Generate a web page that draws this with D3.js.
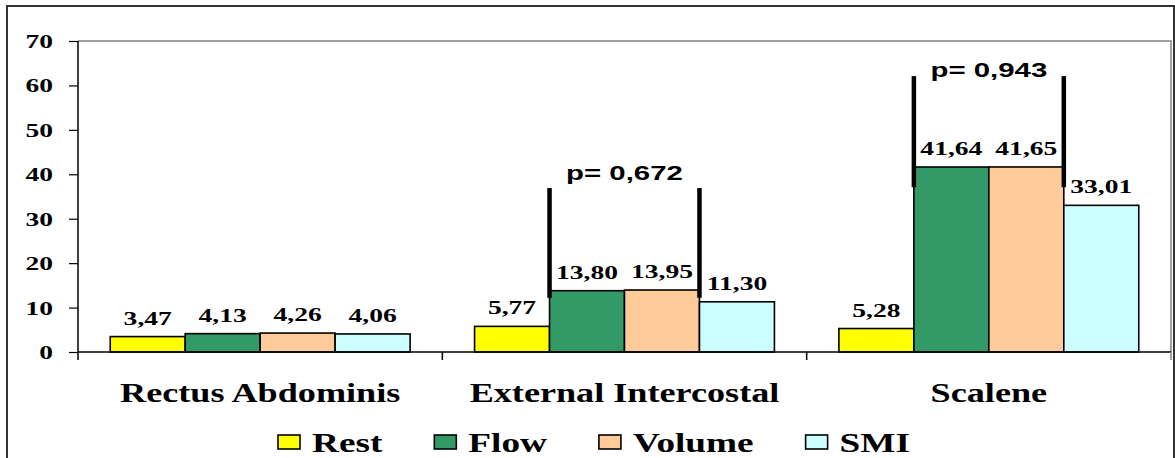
<!DOCTYPE html>
<html>
<head>
<meta charset="utf-8">
<script src="https://cdn.jsdelivr.net/npm/d3@7"></script>
<style>
  body { margin: 0; background: #fff; }
  svg { display: block; }
</style>
</head>
<body>
<div id="vis"></div>
<script>
var width = 1175;
var height = 458;

// data
var categories = ["Rectus Abdominis", "External Intercostal", "Scalene"];
var seriesNames = ["Rest", "Flow", "Volume", "SMI"];
var seriesColors = ["#ffff00", "#339966", "#ffcc99", "#ccffff"];
var restValues = [3.47, 5.77, 5.28];
var flowValues = [4.13, 13.80, 41.64];
var volumeValues = [4.26, 13.95, 41.65];
var smiValues = [4.06, 11.30, 33.01];
var yTicks = [0, 10, 20, 30, 40, 50, 60, 70];
// p-value brackets between Flow and Volume (in value units)
var pLabels = ["p= 0,672", "p= 0,943"];
var pCategories = ["External Intercostal", "Scalene"];
var pLineTop = [36.9, 62.1];
var pLineBottom = [12.2, 37.1];
var pTextY = [38.7, 62.0];

var seriesValues = [restValues, flowValues, volumeValues, smiValues];

var plot = {left: 78, right: 1171, top: 41, bottom: 352};

var svg = d3.select("#vis")
  .append("svg")
  .attr("width", width)
  .attr("height", height);

// outer frame
svg.append("rect")
  .attr("x", 7)
  .attr("y", 6)
  .attr("width", 1167)
  .attr("height", 470)
  .style("fill", "none")
  .style("stroke", "#333")
  .style("stroke-width", 2);

var y = d3.scaleLinear()
  .domain([0, 70])
  .range([plot.bottom, plot.top]);

var x0 = d3.scaleBand()
  .domain(categories)
  .range([plot.left, plot.right])
  .paddingInner(0)
  .paddingOuter(0);

var x1 = d3.scaleBand()
  .domain(seriesNames)
  .range([0, x0.bandwidth()])
  .paddingInner(0)
  .paddingOuter(0.43);

var serif = "'Liberation Serif', 'Times New Roman', serif";
var sans = "'Liberation Sans', Arial, sans-serif";

// stretched text helper
function addText(g, tx, ty, str, size, sx, anchor, family) {
  return g.append("text")
    .attr("transform", `translate(${tx},${ty}) scale(${sx},1)`)
    .attr("text-anchor", anchor)
    .style("font-family", family)
    .style("font-weight", "bold")
    .style("font-size", size + "px")
    .style("fill", "#000")
    .text(str);
}

// plot area border (top/right gray)
svg.append("path")
  .attr("d", `M${plot.left},${plot.top}H${plot.right}V${plot.bottom}`)
  .style("fill", "none")
  .style("stroke", "#808080")
  .style("stroke-width", 1.5);

// bars
var data = [];
categories.forEach(function (c, i) {
  seriesNames.forEach(function (s, j) {
    data.push({cat: c, series: s, value: seriesValues[j][i], color: seriesColors[j]});
  });
});

svg.selectAll(".bar")
  .data(data)
  .enter()
  .append("rect")
  .attr("class", "bar")
  .attr("x", d => x0(d.cat) + x1(d.series))
  .attr("y", d => y(d.value))
  .attr("width", x1.bandwidth())
  .attr("height", d => y(0) - y(d.value))
  .style("fill", d => d.color)
  .style("stroke", "#000")
  .style("stroke-width", 1.6);

// value labels
var labels = svg.append("g");
data.forEach(function (d) {
  addText(labels, x0(d.cat) + x1(d.series) + x1.bandwidth() / 2, y(d.value) - 12,
    d.value.toFixed(2).replace(".", ","), 19, 1.45, "middle", serif);
});

// y axis
var yAxis = d3.axisLeft(y)
  .tickValues(yTicks)
  .tickSize(9)
  .tickFormat("");

var yg = svg.append("g")
  .attr("transform", `translate(${plot.left},0)`)
  .call(yAxis);
yg.select(".domain").remove();
yg.selectAll(".tick line").style("stroke", "#000").style("stroke-width", 1.2);

svg.append("line")
  .attr("x1", plot.left).attr("x2", plot.left)
  .attr("y1", plot.top).attr("y2", plot.bottom + 8)
  .style("stroke", "#000")
  .style("stroke-width", 1.5);

yTicks.forEach(function (t) {
  addText(svg, 53, y(t) + 7, String(t), 19, 1.45, "end", serif);
});

// x axis baseline and category boundary ticks
svg.append("line")
  .attr("x1", plot.left).attr("x2", plot.right)
  .attr("y1", y(0)).attr("y2", y(0))
  .style("stroke", "#000")
  .style("stroke-width", 1.5);

var bounds = categories.map(c => x0(c)).concat([x0.range()[1]]);
svg.selectAll(".xtick")
  .data(bounds.slice(1))
  .enter()
  .append("line")
  .attr("class", "xtick")
  .attr("x1", d => d).attr("x2", d => d)
  .attr("y1", y(0)).attr("y2", y(0) + 8)
  .style("stroke", d => d === plot.right ? "#808080" : "#000")
  .style("stroke-width", 1.5);

categories.forEach(function (c) {
  addText(svg, x0(c) + x0.bandwidth() / 2, 402, c, 27, 1.34, "middle", serif);
});

// p-value brackets
pLabels.forEach(function (p, i) {
  var c = pCategories[i];
  var xl = x0(c) + x1("Flow");
  var xr = x0(c) + x1("Volume") + x1.bandwidth();
  [xl, xr].forEach(function (xx) {
    svg.append("line")
      .attr("x1", xx).attr("x2", xx)
      .attr("y1", y(pLineTop[i])).attr("y2", y(pLineBottom[i]))
      .style("stroke", "#000")
      .style("stroke-width", 4.5);
  });
  addText(svg, (xl + xr) / 2, y(pTextY[i]), p, 20, 1.47, "middle", sans);
});

// legend
var legend = svg.append("g").attr("class", "legend");
var lx = 0;
seriesNames.forEach(function (s, i) {
  legend.append("rect")
    .attr("x", lx)
    .attr("y", 435)
    .attr("width", 22)
    .attr("height", 14)
    .style("fill", seriesColors[i])
    .style("stroke", "#000")
    .style("stroke-width", 1.6);
  var t = addText(legend, lx + 34, 452, s, 27, 1.38, "start", serif);
  lx += 34 + t.node().getComputedTextLength() * 1.38 + 52;
});
legend.attr("transform", "translate(278,0)");
</script>
</body>
</html>
